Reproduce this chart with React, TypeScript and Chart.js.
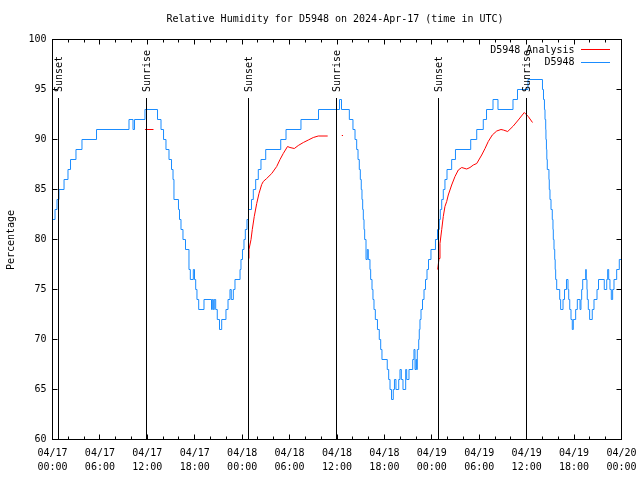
import React, { useEffect, useRef } from 'react';
import { Chart, registerables } from 'chart.js';

Chart.register(...registerables);

const FONT = "'DejaVu Sans Mono', 'Liberation Mono', monospace";
const TITLE = 'Relative Humidity for D5948 on 2024-Apr-17 (time in UTC)';
const Y_TITLE = 'Percentage';

// x axis: hours since 2024-04-17 00:00 UTC
const X_MIN = 0;
const X_MAX = 72;
const Y_MIN = 60;
const Y_MAX = 100;

const xTickHours = [0, 6, 12, 18, 24, 30, 36, 42, 48, 54, 60, 66, 72];
const xTickDates = ['04/17', '04/17', '04/17', '04/17', '04/18', '04/18', '04/18', '04/18', '04/19', '04/19', '04/19', '04/19', '04/20'];
const xTickTimes = ['00:00', '06:00', '12:00', '18:00', '00:00', '06:00', '12:00', '18:00', '00:00', '06:00', '12:00', '18:00', '00:00'];
const xMinorHours = [2, 4, 8, 10, 14, 16, 20, 22, 26, 28, 32, 34, 38, 40, 44, 46, 50, 52, 56, 58, 62, 64, 68, 70];
const yTickValues = [60, 65, 70, 75, 80, 85, 90, 95, 100];

const sunEventHours = [0.73, 11.92, 24.78, 35.96, 48.82, 59.98];
const sunEventLabels = ['Sunset', 'Sunrise', 'Sunset', 'Sunrise', 'Sunset', 'Sunrise'];

const legendLabels = ['D5948 Analysis', 'D5948'];
const analysisColor = '#ff0000';
const obsColor = '#1a8cff';

// D5948 observations: hour at which the reading changes, and the new value
const obsHours = [
  0, 0.32, 0.57, 0.82, 1.46, 1.96, 2.28, 2.97, 3.73, 5.57,
  9.68, 10.19, 10.38, 11.70, 13.29, 13.73, 14.05, 14.36, 14.74, 15.06, 15.25, 15.37,
  15.94, 16.07, 16.26, 16.51, 16.83, 17.27, 17.44, 17.82, 17.97, 18.12, 18.28, 18.50,
  19.17, 20.12, 20.22, 20.35, 20.47, 20.65, 20.85, 21.13, 21.41, 21.95, 22.21, 22.46, 22.62, 22.88, 23.09,
  23.73, 23.85, 24.04, 24.23, 24.40, 24.61, 24.80, 25.18, 25.41, 25.71, 26.04, 26.38, 26.98, 28.88, 29.55, 31.44, 33.66,
  36.32, 36.57, 37.56, 38.02, 38.28, 38.49, 38.66, 38.82, 38.95, 39.07, 39.16, 39.25, 39.33, 39.42, 39.50,
  39.67, 39.83, 39.96, 40.17, 40.26, 40.43, 40.55, 40.68, 40.85, 41.12, 41.35, 41.53, 41.69,
  42.36, 42.54, 42.71, 42.90, 43.12, 43.27, 43.46, 43.81, 43.97, 44.14, 44.35, 44.69, 44.82, 45.11,
  45.58, 45.74, 45.87, 46.00, 46.08, 46.16, 46.34, 46.41, 46.50, 46.63, 46.82, 47.01, 47.20, 47.39, 47.58, 47.89, 48.46,
  48.72, 48.94, 49.07, 49.25, 49.45, 49.66, 49.92, 50.51, 50.99, 52.92, 53.68, 54.51, 54.92, 55.74, 56.37, 58.27, 58.84, 60.17,
  62.00, 62.13, 62.25, 62.32, 62.41, 62.44, 62.50, 62.55, 62.61, 62.82, 62.86, 62.95, 63.08, 63.24, 63.33, 63.37, 63.46, 63.55, 63.61, 63.67, 63.80,
  64.18, 64.30, 64.60, 64.79, 65.04, 65.23, 65.32, 65.45, 65.61, 65.77, 65.90, 66.20, 66.41, 66.75, 66.87, 66.96, 67.09,
  67.47, 67.54, 67.63, 67.67, 67.80, 67.97, 68.30, 68.52, 68.90, 69.09, 69.82, 70.13, 70.25, 70.38, 70.54, 70.71, 70.88, 71.05, 71.39, 71.72, 72,
];
const obsValues = [
  82, 83, 84, 85, 86, 87, 88, 89, 90, 91,
  92, 91, 92, 93, 92, 91, 90, 89, 88, 87, 86, 84,
  83, 82, 81, 80, 79, 77, 76, 77, 76, 75, 74, 73,
  74, 73, 74, 73, 74, 73, 72, 71, 72, 73, 74, 75, 74, 75, 76,
  77, 78, 79, 80, 81, 82, 83, 84, 85, 86, 87, 88, 89, 90, 91, 92, 93,
  94, 93, 92, 91, 90, 89, 88, 87, 86, 85, 84, 83, 82, 81, 80,
  78, 79, 78, 77, 76, 75, 74, 73, 72, 71, 70, 69, 68,
  67, 66, 65, 64, 65, 66, 65, 66, 67, 66, 65, 67, 66, 67,
  68, 69, 67, 68, 67, 69, 70, 71, 72, 73, 74, 75, 76, 77, 78, 79, 80,
  81, 82, 83, 84, 85, 86, 87, 88, 89, 90, 91, 92, 93, 94, 93, 94, 95, 96,
  95, 94, 93, 92, 91, 90, 89, 88, 87, 86, 85, 84, 83, 82, 81, 80, 79, 78, 77, 76, 75,
  74, 73, 74, 75, 76, 75, 74, 73, 72, 71, 72, 73, 74, 73, 74, 75, 76,
  77, 76, 75, 74, 73, 72, 73, 74, 75, 76, 75, 76, 77, 76, 75, 74, 75, 76, 77, 78, 78,
];

// D5948 Analysis (null = no analysis)
const anaHours = [
  11.70, 12.78,
  18,
  24.78, 24.86, 25.12, 25.28, 25.53, 25.84, 26.13, 26.47, 26.67, 27.10, 27.74, 28.37, 28.79, 29.20, 29.74, 30.05, 30.60, 31.10, 31.74, 32.37, 33.00, 33.63, 34.82,
  35.5,
  36.61, 36.76,
  42,
  48.74, 48.91, 49.03, 49.25, 49.45, 49.66, 49.88, 50.08, 50.51, 50.93, 51.35, 51.78, 52.41, 52.83, 53.25, 53.68, 54.31, 54.73, 55.14, 55.65, 56.21, 56.75, 57.04, 57.60, 58.31, 58.94, 59.70, 60.20, 60.74,
];
const anaValues = [
  91, 91,
  null,
  78.1, 79, 80, 81, 82.3, 83.6, 84.6, 85.5, 85.8, 86.1, 86.6, 87.3, 88, 88.6, 89.3, 89.2, 89.1, 89.4, 89.7, 89.95, 90.2, 90.35, 90.35,
  null,
  90.4, 90.4,
  null,
  77.0, 78.1, 79.6, 81, 82.3, 83.3, 83.8, 84.45, 85.45, 86.3, 86.95, 87.2, 87.05, 87.2, 87.45, 87.6, 88.45, 89.1, 89.8, 90.45, 90.85, 91.0, 90.95, 90.8, 91.35, 91.95, 92.7, 92.3, 91.7,
];

const crisp = (v: number) => Math.floor(v) + 0.5;

const gnuplotDecor = {
  id: 'gnuplotDecor',
  afterDatasetsDraw(chart: any) {
    const { ctx, chartArea: a, scales } = chart;
    const xs = scales.x;
    const ys = scales.y;
    ctx.save();
    ctx.strokeStyle = '#000';
    ctx.fillStyle = '#000';
    ctx.lineWidth = 1;
    ctx.font = `10px ${FONT}`;

    // sunrise / sunset markers
    sunEventHours.forEach((h, i) => {
      const px = crisp(xs.getPixelForValue(h));
      ctx.beginPath();
      ctx.moveTo(px, a.top + 58.5);
      ctx.lineTo(px, a.bottom);
      ctx.stroke();
      ctx.save();
      ctx.translate(px + 1, a.top + 52.5);
      ctx.rotate(-Math.PI / 2);
      ctx.textAlign = 'left';
      ctx.textBaseline = 'middle';
      ctx.fillText(sunEventLabels[i], 0, 0);
      ctx.restore();
    });

    // border
    ctx.strokeRect(a.left, a.top, a.right - a.left, a.bottom - a.top);

    // ticks (inward, mirrored)
    ctx.beginPath();
    xTickHours.forEach((h) => {
      const px = crisp(xs.getPixelForValue(h));
      ctx.moveTo(px, a.bottom); ctx.lineTo(px, a.bottom - 5);
      ctx.moveTo(px, a.top); ctx.lineTo(px, a.top + 5);
    });
    xMinorHours.forEach((h) => {
      const px = crisp(xs.getPixelForValue(h));
      ctx.moveTo(px, a.bottom); ctx.lineTo(px, a.bottom - 3);
      ctx.moveTo(px, a.top); ctx.lineTo(px, a.top + 3);
    });
    yTickValues.forEach((v) => {
      const py = crisp(ys.getPixelForValue(v));
      ctx.moveTo(a.left, py); ctx.lineTo(a.left + 5, py);
      ctx.moveTo(a.right, py); ctx.lineTo(a.right - 5, py);
    });
    ctx.stroke();

    // legend
    ctx.textAlign = 'right';
    ctx.textBaseline = 'middle';
    ctx.fillText(legendLabels[0], 574.5, 50);
    ctx.fillText(legendLabels[1], 574.5, 62.5);
    ctx.strokeStyle = analysisColor;
    ctx.beginPath(); ctx.moveTo(581, 49.5); ctx.lineTo(610, 49.5); ctx.stroke();
    ctx.strokeStyle = obsColor;
    ctx.beginPath(); ctx.moveTo(581, 62.5); ctx.lineTo(610, 62.5); ctx.stroke();

    // title
    ctx.textAlign = 'center';
    ctx.fillText(TITLE, 335, 19);

    // y axis title
    ctx.save();
    ctx.translate(11, 240);
    ctx.rotate(-Math.PI / 2);
    ctx.textAlign = 'center';
    ctx.textBaseline = 'middle';
    ctx.fillText(Y_TITLE, 0, 0);
    ctx.restore();

    ctx.restore();
  },
};

export default function App() {
  const canvasRef = useRef<HTMLCanvasElement | null>(null);

  useEffect(() => {
    const canvas = canvasRef.current;
    if (!canvas) return;
    const chart = new Chart(canvas, {
      type: 'line',
      data: {
        datasets: [
          {
            label: legendLabels[0],
            data: anaHours.map((h, i) => ({ x: h, y: anaValues[i] })) as any,
            borderColor: analysisColor,
            borderWidth: 1,
            pointRadius: 0,
            spanGaps: false,
            tension: 0,
          },
          {
            label: legendLabels[1],
            data: obsHours.map((h, i) => ({ x: h, y: obsValues[i] })),
            borderColor: obsColor,
            borderWidth: 1,
            pointRadius: 0,
            stepped: true,
          },
        ],
      },
      options: {
        animation: false,
        responsive: false,
        events: [],
        layout: { padding: { top: 39.5, right: 18.5, left: 0, bottom: 0 } },
        plugins: {
          legend: { display: false },
          title: { display: false },
          tooltip: { enabled: false },
        },
        scales: {
          x: {
            type: 'linear',
            min: X_MIN,
            max: X_MAX,
            afterFit: (s: any) => {
              s.height = 40.5;
              s.paddingLeft = 0;
              s.paddingRight = 0;
            },
            afterBuildTicks: (s: any) => { s.ticks = xTickHours.map((v) => ({ value: v })); },
            ticks: {
              autoSkip: false,
              maxRotation: 0,
              minRotation: 0,
              padding: 6.5,
              color: '#000',
              font: { family: FONT, size: 10, lineHeight: 1.4 },
              callback: (v: any) => {
                const i = xTickHours.indexOf(Number(v));
                return i >= 0 ? [xTickDates[i], xTickTimes[i]] : '';
              },
            },
            grid: { display: false, drawTicks: false },
            border: { display: false },
          },
          y: {
            type: 'linear',
            min: Y_MIN,
            max: Y_MAX,
            afterFit: (s: any) => {
              s.width = 52.5;
              s.paddingTop = 0;
              s.paddingBottom = 0;
            },
            afterBuildTicks: (s: any) => { s.ticks = yTickValues.map((v) => ({ value: v })); },
            ticks: {
              padding: 6,
              color: '#000',
              font: { family: FONT, size: 10 },
              callback: (v: any) => String(v),
            },
            grid: { display: false, drawTicks: false },
            border: { display: false },
          },
        },
      },
      plugins: [gnuplotDecor],
    });
    return () => chart.destroy();
  }, []);

  return (
    <div style={{ position: 'fixed', left: 0, top: 0, width: 640, height: 480, background: '#fff' }}>
      <canvas ref={canvasRef} width={640} height={480} style={{ display: 'block', width: 640, height: 480 }} />
    </div>
  );
}
